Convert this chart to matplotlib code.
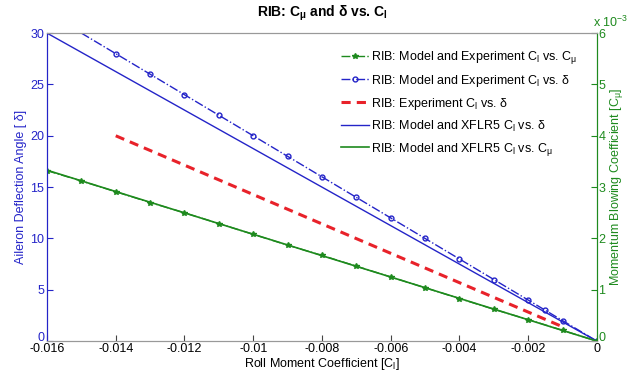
import matplotlib
matplotlib.use("Agg")
import matplotlib.pyplot as plt
import matplotlib.ticker as mticker
import matplotlib.transforms as mtransforms
import numpy as np

plt.rcParams['font.family'] = ['Liberation Sans', 'DejaVu Sans']
plt.rcParams['mathtext.fontset'] = 'custom'
plt.rcParams['mathtext.rm'] = 'Liberation Sans'
plt.rcParams['mathtext.it'] = 'Liberation Sans'
plt.rcParams['mathtext.bf'] = 'Liberation Sans:bold'

# Blue: Model and Experiment Cl vs delta (dash-dot, circles)
cl_exp_delta = [-0.015, -0.014, -0.013, -0.012, -0.011, -0.010, -0.009, -0.008,
                -0.007, -0.006, -0.005, -0.004, -0.003, -0.002, -0.0015, -0.001, 0.0]
delta_exp = [30, 28, 26, 24, 22, 20, 18, 16, 14, 12, 10, 8, 6, 4, 3, 2, 0]

# Red: Experiment Cl vs delta
cl_red = [-0.014, -0.001]
delta_red = [20, 1.4]

# Blue solid: Model and XFLR5 Cl vs delta
cl_xflr_delta = [-0.016, 0.0]
delta_xflr = [30, 0]

# Green: Model and Experiment Cl vs Cmu (dash-dot with stars)
cl_cmu = [-0.016, -0.015, -0.014, -0.013, -0.012, -0.011, -0.010, -0.009, -0.008,
          -0.007, -0.006, -0.005, -0.004, -0.003, -0.002, -0.001, 0.0]
cmu_exp = [3.32e-3, 3.12e-3, 2.91e-3, 2.70e-3, 2.50e-3, 2.29e-3, 2.08e-3, 1.87e-3,
           1.67e-3, 1.46e-3, 1.25e-3, 1.04e-3, 0.83e-3, 0.62e-3, 0.42e-3, 0.21e-3, 0.0]

# Green solid: Model and XFLR5 Cl vs Cmu
cl_xflr_cmu = [-0.016, 0.0]
cmu_xflr = [3.33e-3, 0.0]

blue = '#2424c8'
green = '#1e8a1e'
red = '#e8222a'

fig = plt.figure(figsize=(6.31, 3.72), dpi=100)
ax = fig.add_axes([0.0745, 0.083, 0.8715, 0.828])
ax2 = ax.twinx()

l1, = ax2.plot(cl_cmu, cmu_exp, linestyle='-.', color=green, marker='*',
               markersize=4, linewidth=1.0,
               label='RIB: Model and Experiment C$_l$ vs. C$_\\mu$')
l2, = ax.plot(cl_exp_delta, delta_exp, linestyle='-.', color=blue, marker='o',
              markersize=3.5, markerfacecolor='none', linewidth=1.0,
              markevery=list(range(1, len(cl_exp_delta))),
              label='RIB: Model and Experiment C$_l$ vs. δ')
l3, = ax.plot(cl_red, delta_red, linestyle=(0, (3, 2)), color=red, linewidth=2.2,
              label='RIB: Experiment C$_l$ vs. δ')
l4, = ax.plot(cl_xflr_delta, delta_xflr, linestyle='-', color=blue, linewidth=1.0,
              label='RIB: Model and XFLR5 C$_l$ vs. δ')
l5, = ax2.plot(cl_xflr_cmu, cmu_xflr, linestyle='-', color=green, linewidth=1.2,
               label='RIB: Model and XFLR5 C$_l$ vs. C$_\\mu$')

ax.set_xlim(-0.016, 0)
ax.set_ylim(0, 30)
ax2.set_ylim(0, 6e-3)

ax.set_xticks(np.arange(-0.016, 0.0001, 0.002))
ax.xaxis.set_major_formatter(mticker.FuncFormatter(lambda v, p: f"{v:g}" if abs(v) > 1e-12 else "0"))
ax.set_yticks([0, 5, 10, 15, 20, 25, 30])
ax2.set_yticks(np.arange(0, 6.5e-3, 1e-3))
ax2.yaxis.set_major_formatter(mticker.FuncFormatter(lambda v, p: f"{round(v*1e3):d}"))

for a in (ax, ax2):
    a.tick_params(direction='in', length=4, labelsize=9)
ax.tick_params(axis='y', colors=blue, pad=2)
ax.tick_params(axis='x', colors='#444444', labelcolor='black', pad=1.5)
ax2.tick_params(axis='y', colors=green, pad=1)

for s in ('top', 'bottom'):
    ax.spines[s].set_color('#999999')
    ax2.spines[s].set_color('#999999')
ax2.spines['left'].set_color(blue)
ax2.spines['right'].set_color(green)
ax.spines['left'].set_color(blue)
ax.spines['right'].set_color(green)

ax.set_xlabel('Roll Moment Coefficient [C$_l$]', fontsize=9, labelpad=0.5)
ax.set_ylabel('Aileron Deflection Angle [ δ]', fontsize=9, color=blue, labelpad=2)
ax2.set_ylabel('Momentum Blowing Coefficient [C$_\\mu$]', fontsize=9, color=green, labelpad=2)
ax.set_title('RIB: C$_\\mathbf{\\mu}$ and δ vs. C$_\\mathbf{l}$', fontsize=10, fontweight='bold', pad=12)

ax2.text(0.993, 1.01, 'x 10$^{-3}$', transform=ax2.transAxes, color=green,
         fontsize=9, ha='left', va='bottom')

leg = ax2.legend(handles=[l1, l2, l3, l4, l5], loc='upper right',
                 bbox_to_anchor=(0.985, 0.985), frameon=False, fontsize=9,
                 handlelength=2.2, handletextpad=0.2, labelspacing=0.55)

# nudge the two "0" labels at the bottom corners up slightly so they clear the x labels
fig.canvas.draw()
shift = mtransforms.ScaledTranslation(0, 3 / 72, fig.dpi_scale_trans)
for lab in (ax.get_yticklabels()[0], ax2.get_yticklabels()[0]):
    lab.set_transform(lab.get_transform() + shift)

fig.savefig('out.png', dpi=100)
